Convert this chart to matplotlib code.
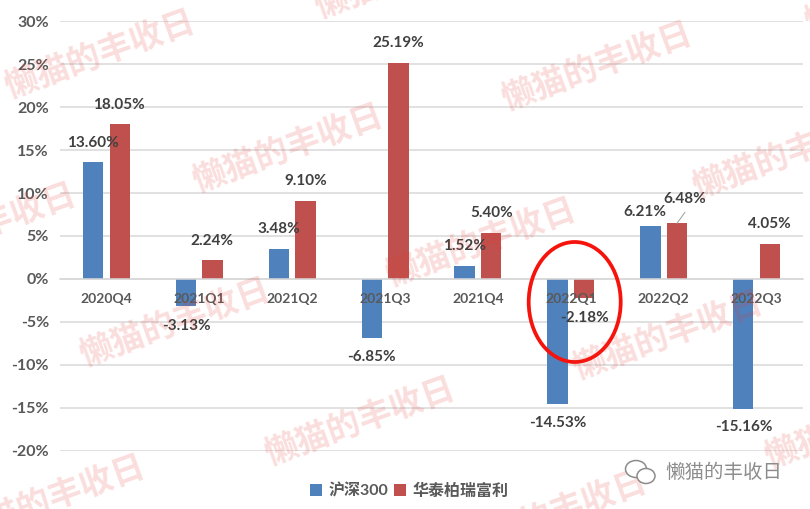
import matplotlib
matplotlib.use("Agg")
import matplotlib.pyplot as plt
from matplotlib.patches import Ellipse

W, H = 810, 509

quarters = ["2020Q4", "2021Q1", "2021Q2", "2021Q3", "2021Q4", "2022Q1", "2022Q2", "2022Q3"]
hs300 = [13.60, -3.13, 3.48, -6.85, 1.52, -14.53, 6.21, -15.16]
huatai = [18.05, 2.24, 9.10, 25.19, 5.40, -2.18, 6.48, 4.05]
yticks = [-20, -15, -10, -5, 0, 5, 10, 15, 20, 25, 30]

# label offsets from the bar end, in pixels
hs300_off = [(0, 19), (0, -20), (0, 20), (0, -19), (0, 19.5), (0, -19), (-6, 14), (1, -18.5)]
huatai_off = [(-1, 18.6), (-1, 19), (0, 19.4), (0, 19.3), (0, 20), (0, -20), (7.5, 24), (0, 19.7)]

# watermark centres in image pixels
marks = [(100, 55), (288, 149), (597, 67), (-19, 228), (788, 155), (481, 243), (175, 323),
         (668, 336), (360, 422), (50, 500), (552, 515), (860, 425), (410, -25), (900, -10)]

plt.rcParams["font.family"] = ["Lato", "Noto Sans CJK SC", "DejaVu Sans"]
plt.rcParams["font.weight"] = "bold"

fig = plt.figure(figsize=(W / 100, H / 100), dpi=100)
ax = fig.add_axes([60 / W, 1 - 450.5 / H, 743 / W, 429 / H])


def fx(px):
    return px / W


def fy(py):
    return 1 - py / H


x = list(range(len(quarters)))
bw = 0.22
off = 0.143
b1 = ax.bar([i - off for i in x], hs300, bw, color="#4f81bd", label="沪深300", zorder=1)
b2 = ax.bar([i + off for i in x], huatai, bw, color="#c0504d", label="华泰柏瑞富利", zorder=1)

ax.set_xlim(-0.5, 7.5)
ax.set_ylim(-20, 30)
ax.set_yticks(yticks)
ax.set_yticklabels(["{}%".format(t) for t in yticks], fontsize=11.5, weight="bold")
ax.set_xticks(x)
ax.set_xticklabels(quarters, fontsize=11.5, weight="bold")
ax.tick_params(axis="y", length=0, pad=8, labelcolor="#595959")
ax.tick_params(axis="x", length=0, pad=10, labelcolor="#595959")

for t in yticks:
    ax.axhline(t, color="#d9d9d9", lw=1.1, zorder=0)

for s in ["top", "left", "right"]:
    ax.spines[s].set_visible(False)
ax.spines["bottom"].set_position(("data", 0))
ax.spines["bottom"].set_color("#d9d9d9")
ax.spines["bottom"].set_linewidth(1.1)

for vals, offs, sign in [(hs300, hs300_off, -1), (huatai, huatai_off, 1)]:
    for i, v in enumerate(vals):
        ax.annotate("{:.2f}%".format(v), xy=(i + sign * off, v), xytext=offs[i],
                    textcoords="offset pixels", ha="center", va="center",
                    color="#404040", fontsize=11, weight="bold", zorder=5)

# leader line of the 6.48% label
ax.annotate("", xy=(6 + off, huatai[6]), xytext=(8, 11), textcoords="offset pixels",
            arrowprops=dict(arrowstyle="-", color="#a6a6a6", lw=0.8, shrinkA=0, shrinkB=0))

fig.legend(handles=[b1, b2], loc="center", bbox_to_anchor=(fx(409.5), fy(491)), ncol=2, frameon=False,
           fontsize=11.5, labelcolor="#595959", handlelength=0.75, handleheight=0.75,
           handletextpad=0.4, columnspacing=0.35, borderpad=0)

# red circle around 2022Q1
fig.add_artist(Ellipse((fx(574.7), fy(302)), 92 / W, 120 / H, fill=False, edgecolor="#f5130c",
                       lw=2.7, transform=fig.transFigure, zorder=6))

for mx, my in marks:
    fig.text(fx(mx), fy(my), "懒猫的丰收日", rotation=20, rotation_mode="anchor", ha="center", va="center",
             fontsize=24, color="#e63c32", alpha=0.17, zorder=10, family=["Noto Sans CJK SC", "DejaVu Sans"])

# account mark bottom right
for cx, cy, bw_, bh in [(636, 469, 21, 17), (646, 476, 18, 15)]:
    fig.add_artist(Ellipse((fx(cx), fy(cy)), bw_ / W, bh / H, facecolor="white", edgecolor="#8c8c8c",
                           lw=1.1, transform=fig.transFigure, zorder=11))
fig.text(fx(723.5), fy(472.5), "懒猫的丰收日", ha="center", va="center", fontsize=14, color="#8c8c8c",
         weight="normal", family=["Noto Sans CJK SC", "DejaVu Sans"], zorder=11)

fig.savefig("out.png", dpi=100)
